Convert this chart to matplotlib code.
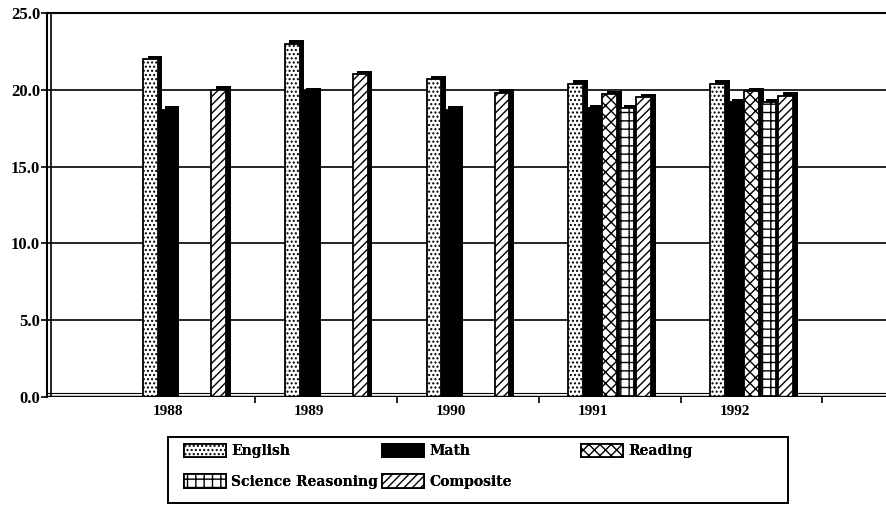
import numpy as np
import matplotlib
matplotlib.use('Agg')
from matplotlib import pyplot as plt
from matplotlib.patches import Rectangle

plt.rcParams['font.family'] = ['Liberation Serif', 'DejaVu Serif']
plt.rcParams['hatch.linewidth'] = 1.0

# data
years = ['1988', '1989', '1990', '1991', '1992']
english = [22.0, 23.0, 20.7, 20.4, 20.4]
math = [18.7, 19.9, 18.7, 18.8, 19.2]
reading = [0.0, 0.0, 0.0, 19.7, 19.9]
science = [0.0, 0.0, 0.0, 18.8, 19.2]
composite = [20.0, 21.0, 19.8, 19.5, 19.6]

series = ['English', 'Math', 'Reading', 'Science Reasoning', 'Composite']
values = [english, math, reading, science, composite]
faces = ['white', 'black', 'white', 'white', 'white']
hatches = ['....', None, 'xxx', '++', '////']

W, H = 886, 507
fig = plt.figure(figsize=(W / 100, H / 100), dpi=100)
ax = fig.add_axes([47 / W, 1 - 397 / H, 0.96, (397 - 13) / H])

x = np.arange(len(years))
w = 0.105
offs = [-0.12, 0.0, 0.12, 0.24, 0.36]
dx, dy = 0.032, 0.23   # drop shadow of the pseudo 3d bars

handles = []
for i in range(len(series)):
    v = np.array(values[i])
    # shadow
    ax.bar(x + offs[i] + dx, np.where(v > 0, v + dy, 0), w, color='black', zorder=3)
    b = ax.bar(x + offs[i], v, w, color=faces[i], hatch=hatches[i],
               edgecolor='black', linewidth=1.3, zorder=4, label=series[i])
    handles.append(b)

ax.set_ylim(0, 25)
ax.set_xlim(-0.85, 5.15)
ax.set_yticks([0, 5, 10, 15, 20, 25])
ax.set_yticklabels(['0.0', '5.0', '10.0', '15.0', '20.0', '25.0'],
                   fontsize=12, fontweight='bold')
ax.set_xticks(x)
ax.set_xticklabels(years, fontsize=11, fontweight='bold')
ax.set_xticks(x + 0.62, minor=True)
ax.tick_params(axis='x', which='major', length=0, pad=6)
ax.tick_params(axis='x', which='minor', length=4, width=1.2, direction='out')
ax.tick_params(axis='y', length=4, width=1.2, direction='out', pad=1)

ax.yaxis.grid(True, color='black', linewidth=1.2)
ax.set_axisbelow(True)
for s in ['right', 'bottom']:
    ax.spines[s].set_visible(False)
ax.spines['left'].set_linewidth(1.5)
ax.spines['top'].set_linewidth(1.5)
# floor and wall double lines
ax.axhline(0, color='black', linewidth=2.5, zorder=5)
ax.axhline(0.25, color='black', linewidth=0.8, zorder=2)
ax.axvline(-0.82, color='black', linewidth=1.2, zorder=2)

# legend: three columns at fixed places, one frame round them
cols = [[0, 3], [1, 4], [2]]
col_x = [184, 382, 581]
for c, cx in zip(cols, col_x):
    leg = fig.legend([handles[k] for k in c], [series[k] for k in c],
                     loc='upper left', bbox_to_anchor=(cx / W, 1 - 444 / H),
                     frameon=False, prop={'family': 'DejaVu Serif', 'size': 10,
                                          'weight': 'bold'},
                     handlelength=3.0, handleheight=1.1, handletextpad=0.4,
                     borderpad=0, borderaxespad=0, labelspacing=1.15)
    fig.add_artist(leg)
fig.patches.append(Rectangle((168 / W, 1 - 503 / H), (788 - 168) / W, (503 - 437) / H,
                             transform=fig.transFigure, fill=False,
                             edgecolor='black', linewidth=1.4))

fig.savefig('out.png', dpi=100)
